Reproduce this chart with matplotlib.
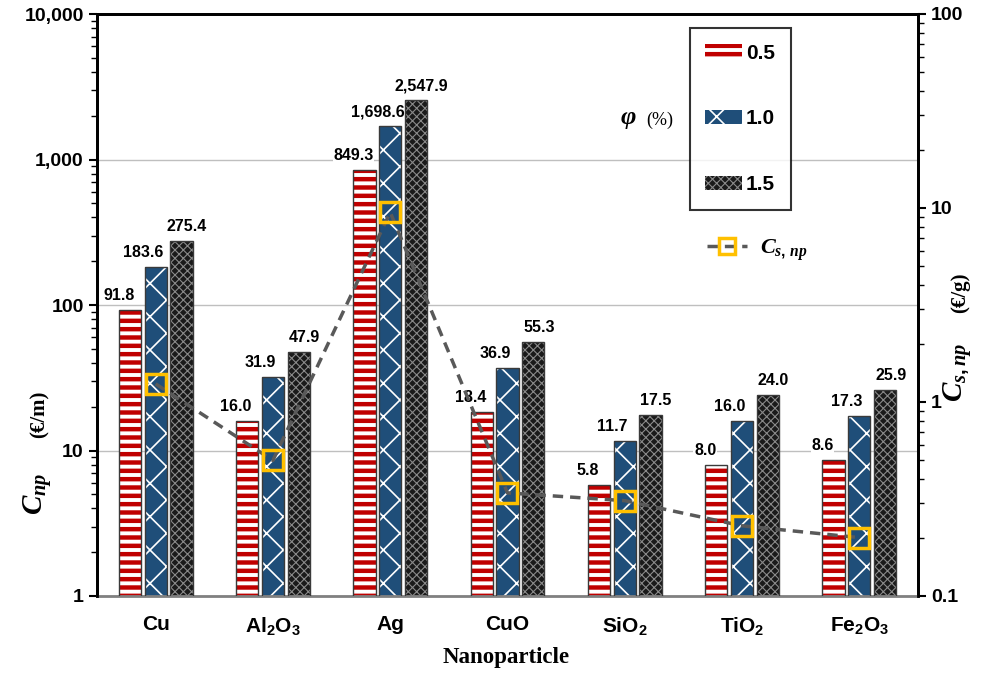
import numpy as np
import matplotlib
matplotlib.use("Agg")
import matplotlib.pyplot as plt
from matplotlib.lines import Line2D
from matplotlib.ticker import FixedLocator, LogLocator, NullFormatter

plt.rcParams['font.family'] = ['Liberation Sans', 'DejaVu Sans']
plt.rcParams['mathtext.fontset'] = 'custom'
plt.rcParams['mathtext.rm'] = 'Liberation Sans:bold'
plt.rcParams['mathtext.it'] = 'Liberation Serif:italic:bold'
plt.rcParams['mathtext.bf'] = 'Liberation Sans:bold'

# --- data ---
cats = ['Cu', 'Al$_2$O$_3$', 'Ag', 'CuO', 'SiO$_2$', 'TiO$_2$', 'Fe$_2$O$_3$']
phi_05 = [91.8, 16.0, 849.3, 18.4, 5.8, 8.0, 8.6]
phi_10 = [183.6, 31.9, 1698.6, 36.9, 11.7, 16.0, 17.3]
phi_15 = [275.4, 47.9, 2547.9, 55.3, 17.5, 24.0, 25.9]
cs_np = [1.24, 0.50, 9.5, 0.34, 0.31, 0.23, 0.20]
phi_labels = ['0.5', '1.0', '1.5']

left_ticks = [1, 10, 100, 1000, 10000]
left_ticklabels = ['1', '10', '100', '1,000', '10,000']
right_ticks = [0.1, 1, 10, 100]
right_ticklabels = ['0.1', '1', '10', '100']

# bar styles: (face, hatch colour, hatch)
styles = [('white', '#C00000', '--'),
          ('#1F4E79', 'white', 'x'),
          ('#1a1a1a', '#8a8a8a', 'xxxx')]
hatch_lw = [3.2, 1.2, 0.8]
label_shift = [(-8, 5), (-9, 5), (4, 5)]

fig = plt.figure(figsize=(9.81, 6.73), dpi=100)
ax = fig.add_axes([97/981, 77/673, 821/981, 582/673])

x = np.arange(len(cats))
w = 0.19
step = 0.22
series = [phi_05, phi_10, phi_15]

bar_handles = []
for i, vals in enumerate(series):
    face, hc, hatch = styles[i]
    pos = x + (i - 1) * step
    with plt.rc_context({'hatch.linewidth': hatch_lw[i]}):
        bc = ax.bar(pos, vals, w, color=face, edgecolor=hc, hatch=hatch, linewidth=0, zorder=2)
    bar_handles.append(bc)
    ax.bar(pos, vals, w, fill=False, edgecolor='#3a3a3a', linewidth=1, zorder=3)
    for xp, v in zip(pos, vals):
        ax.annotate(f'{v:,.1f}', (xp, v), xytext=label_shift[i], textcoords='offset points',
                    ha='center', va='bottom', fontsize=11.5, fontweight='bold',
                    bbox=dict(facecolor='white', edgecolor='none', pad=0.5), zorder=1.5)

ax.set_yscale('log')
ax.set_ylim(1, 10000)
ax.set_xlim(-0.5, len(cats) - 0.5)
ax.set_xticks(x)
ax.set_xticklabels(cats, fontsize=15, fontweight='bold')
ax.tick_params(axis='x', length=0, pad=14)
ax.yaxis.set_major_locator(FixedLocator(left_ticks))
ax.set_yticklabels(left_ticklabels, fontsize=14, fontweight='bold')
ax.yaxis.set_minor_locator(LogLocator(base=10, subs=np.arange(2, 10)))
ax.yaxis.set_minor_formatter(NullFormatter())
ax.tick_params(axis='y', which='major', direction='out', length=6, width=1.5)
ax.tick_params(axis='y', which='minor', direction='out', length=4, width=1)
ax.grid(axis='y', which='major', color='#bfbfbf', linewidth=1)
ax.set_axisbelow(True)
for s in ['left', 'top', 'right']:
    ax.spines[s].set_linewidth(2)
    ax.spines[s].set_color('black')
ax.spines['bottom'].set_color('#808080')
ax.spines['bottom'].set_linewidth(2)

# secondary axis
ax2 = ax.twinx()
ax2.set_yscale('log')
ax2.set_ylim(0.1, 100)
ax2.plot(x, cs_np, color='#595959', linewidth=2.5, dashes=(3, 2),
         marker='s', markersize=15, markerfacecolor='none',
         markeredgecolor='#FFC000', markeredgewidth=2.5, zorder=5)
ax2.yaxis.set_major_locator(FixedLocator(right_ticks))
ax2.set_yticklabels(right_ticklabels, fontsize=14, fontweight='bold')
ax2.yaxis.set_minor_locator(LogLocator(base=10, subs=np.arange(2, 10)))
ax2.yaxis.set_minor_formatter(NullFormatter())
ax2.tick_params(axis='y', which='major', direction='out', length=6, width=1.5)
ax2.tick_params(axis='y', which='minor', direction='out', length=4, width=1)
for s in ['left', 'top', 'right']:
    ax2.spines[s].set_linewidth(2)
ax2.spines['bottom'].set_visible(False)

# legends
leg = ax2.legend(bar_handles, phi_labels, loc='upper left', bbox_to_anchor=(0.722, 0.976),
                 borderaxespad=0, frameon=True, fancybox=False, edgecolor='black',
                 labelspacing=2.25, handlelength=1.75, handleheight=0.65, borderpad=0.75,
                 handletextpad=0.2,
                 prop={'family': 'Liberation Sans', 'weight': 'bold', 'size': 15})
leg.get_frame().set_linewidth(1.5)
for h, lw in zip(leg.legend_handles, hatch_lw):
    if hasattr(h, 'set_hatch_linewidth'):
        h.set_hatch_linewidth(lw)
    else:
        h._hatch_linewidth = lw
ax2.add_artist(leg)

line_h = Line2D([0], [0], color='#595959', linewidth=2.5, dashes=(3, 2),
                marker='s', markersize=11, markerfacecolor='none',
                markeredgecolor='#FFC000', markeredgewidth=2.5)
ax2.legend([line_h], ['$C_{s,\\,np}$'], loc='center left', bbox_to_anchor=(0.732, 0.5945),
           borderaxespad=0, frameon=False, handlelength=1.8, handletextpad=0.6,
           prop={'family': 'Liberation Serif', 'weight': 'bold', 'size': 16})

ax.text(0.637, 0.818, r'$\varphi$', transform=ax.transAxes, ha='left', va='center',
        fontsize=19, fontfamily='Liberation Serif')
ax.text(0.669, 0.818, '(%)', transform=ax.transAxes, ha='left', va='center',
        fontsize=13, fontfamily='Liberation Serif')

# axis titles
fig.text(38/981, 1 - 494/673, '$C_{np}$', rotation=90, ha='center', va='center',
         fontsize=21, fontfamily='Liberation Serif')
fig.text(40/981, 1 - 414/673, '(€/m)', rotation=90, ha='center', va='center',
         fontsize=15, fontweight='bold', fontfamily='Liberation Serif')
fig.text(958/981, 1 - 372/673, '$C_{s,np}$', rotation=90, ha='center', va='center',
         fontsize=21, fontfamily='Liberation Serif')
fig.text(960/981, 1 - 293/673, '(€/g)', rotation=90, ha='center', va='center',
         fontsize=15, fontweight='bold', fontfamily='Liberation Serif')
fig.text(506/981, 1 - 657/673, 'Nanoparticle', ha='center', va='center',
         fontsize=16.5, fontweight='bold', fontfamily='Liberation Serif')

fig.savefig('out.png', dpi=100)
